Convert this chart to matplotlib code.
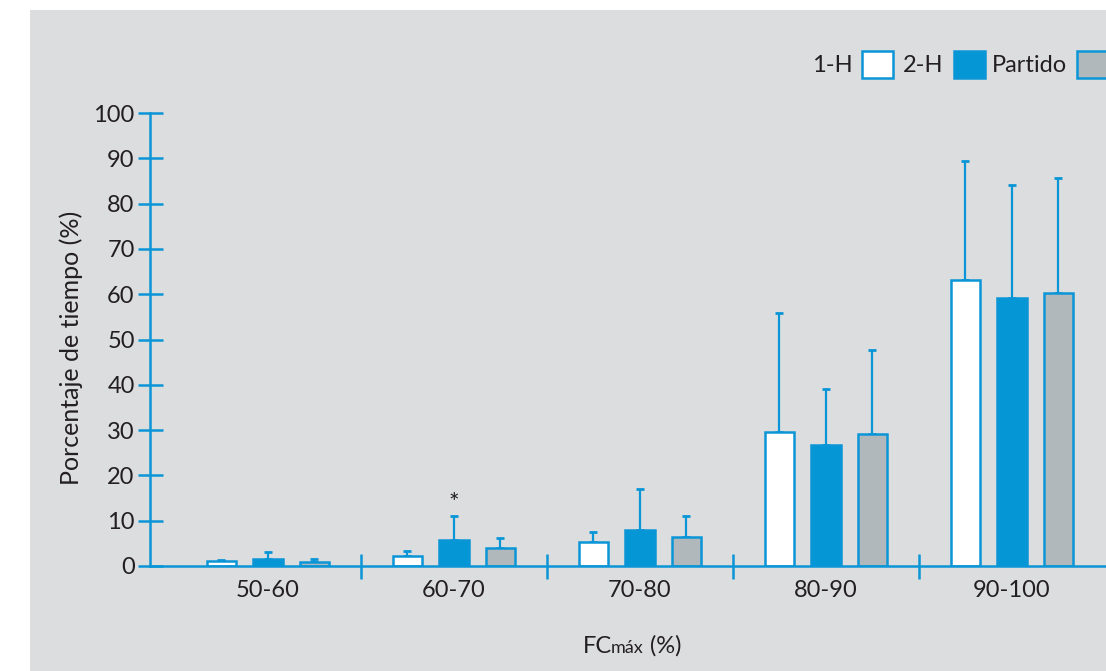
import numpy as np
import matplotlib.pyplot as plt
from matplotlib.patches import Rectangle

plt.rcParams['font.family'] = ['Lato', 'DejaVu Sans']

# datos
categorias = ["50-60", "60-70", "70-80", "80-90", "90-100"]
series = ["1-H", "2-H", "Partido"]
media_1h = [1.1, 2.3, 5.3, 29.5, 63.1]
sd_1h = [0.3, 1.1, 2.1, 26.3, 26.2]
media_2h = [1.5, 5.7, 7.9, 26.7, 59.2]
sd_2h = [1.5, 5.4, 9.0, 12.3, 25.0]
media_partido = [0.9, 4.0, 6.3, 29.1, 60.3]
sd_partido = [0.7, 2.2, 4.7, 18.6, 25.4]

azul = "#0a96d6"
fondo = "#dcdddf"
texto = "#231f20"
colores = ["white", "#0596d6", "#b1b8bb"]
fs = 17

W, H = 1106, 671
fig = plt.figure(figsize=(W / 100, H / 100), dpi=100, facecolor="white")
# fondo gris
fig.patches.append(Rectangle((30 / W, 0), 1, 1 - 10 / H, transform=fig.transFigure,
                             facecolor=fondo, edgecolor="none", zorder=-5))

# ejes: x de -0.634 a 4.6, ancho 186 px por categoría
x0, x1 = -0.634, 4.6
ax = fig.add_axes([150 / W, 105 / H, (x1 - x0) * 186 / W, 453 / H])
ax.set_facecolor("none")

x = np.arange(len(categorias))
medias = [media_1h, media_2h, media_partido]
sds = [sd_1h, sd_2h, sd_partido]
for i, (m, s) in enumerate(zip(medias, sds)):
    pos = x + (i - 1) * 0.25
    ax.bar(pos, m, width=0.16, color=colores[i], edgecolor=azul, linewidth=1.8, zorder=3)
    ax.errorbar(pos, m, yerr=[np.zeros(len(s)), s], fmt="none", ecolor=azul,
                elinewidth=1.6, capsize=2.6, capthick=2, zorder=2)

# asterisco sobre 2-H en 60-70
ax.text(x[1], media_2h[1] + sd_2h[1] + 2.8, "*", ha="center", va="center",
        fontsize=18, color=texto)

ax.set_xlim(x0, x1)
ax.set_ylim(0, 100)
ax.set_yticks(range(0, 101, 10))
ax.set_xticks(x)
ax.set_xticklabels(categorias)
ax.set_xticks(x[:-1] + 0.5, minor=True)
ax.tick_params(axis="x", which="major", length=0, pad=10, labelsize=fs, labelcolor=texto)
ax.tick_params(axis="x", which="minor", direction="inout", length=18, width=1.8, color=azul)
ax.tick_params(axis="y", direction="inout", length=18, width=1.8, color=azul,
               labelsize=fs, labelcolor=texto, pad=2)
for lado in ["top", "right"]:
    ax.spines[lado].set_visible(False)
for lado in ["left", "bottom"]:
    ax.spines[lado].set_color(azul)
    ax.spines[lado].set_linewidth(1.8)
ax.spines["bottom"].set_zorder(4)

fig.text(71 / W, 1 - 348 / H, "Porcentaje de tiempo (%)", rotation=90,
         ha="center", va="center", fontsize=18, color=texto)

# etiqueta del eje x: "FC" + "máx" pequeño + " (%)"
t1 = fig.text(583 / W, 1 - 657 / H, "FC", fontsize=fs, color=texto, ha="left", va="bottom")
t2 = ax.annotate("máx", xy=(1, 0), xycoords=t1, xytext=(-0.8, 0.8), textcoords="offset points",
                 fontsize=13, color=texto, va="bottom", ha="left", annotation_clip=False)
ax.annotate(" (%)", xy=(1, 0), xycoords=t2, xytext=(0, -0.8), textcoords="offset points",
            fontsize=fs, color=texto, va="bottom", ha="left", annotation_clip=False)

# leyenda manual
cajas = [862, 954, 1077]
fin_texto = [853, 943, 1067]
for nombre, cx, tx, c in zip(series, cajas, fin_texto, colores):
    fig.patches.append(Rectangle((cx / W, 1 - 78 / H), 31 / W, 27 / H,
                                 transform=fig.transFigure, facecolor=c,
                                 edgecolor=azul, linewidth=1.8, zorder=5))
    fig.text(tx / W, 1 - 65 / H, nombre, ha="right", va="center", fontsize=fs,
             color=texto, zorder=6)

fig.savefig("out.png", dpi=100, facecolor="white")
